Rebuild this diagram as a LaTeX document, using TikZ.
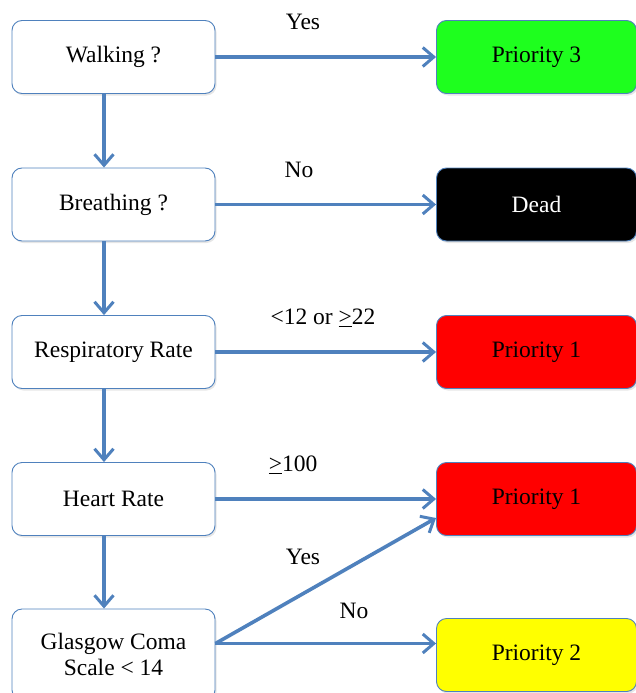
\documentclass[tikz,border=0pt]{standalone}
\usepackage{fontspec}
\setmainfont{Liberation Serif}
\usepackage{tikz}
\usetikzlibrary{arrows.meta,shadows,calc}
\definecolor{tblue}{RGB}{79,129,189}
\definecolor{tgreen}{RGB}{30,255,30}
\definecolor{tred}{RGB}{255,0,0}
\definecolor{tyellow}{RGB}{255,255,0}

\begin{document}
\begin{tikzpicture}[x=1pt,y=-1pt,>={Straight Barb[length=11pt,width=19pt,line width=3pt]},
  every node/.style={font=\fontsize{23.5}{27}\selectfont},
  askbox/.style={draw=tblue,line width=0.9pt,rounded corners=10pt,fill=white,
    minimum width=203pt,minimum height=73pt,align=center,
    drop shadow={shadow xshift=1.5pt,shadow yshift=-2pt,opacity=0.2}},
  prio/.style={askbox,minimum width=200pt},
  flow/.style={->,draw=tblue,line width=3.6pt}]
  \useasboundingbox (0,0) rectangle (636,693);
  % questions
  \node[askbox] (walk) at (113.5,57) {Walking ?};
  \node[askbox] (breath) at (113.5,204.5) {Breathing ?};
  \node[askbox] (resp) at (113.5,352) {Respiratory Rate};
  \node[askbox] (heart) at (113.5,499) {Heart Rate};
  \node[askbox,minimum height=91pt] (gcs) at (113.5,654.5) {Glasgow Coma\\[-1pt]Scale < 14};
  % outcomes
  \node[prio,fill=tgreen] (p3) at (536.5,57) {Priority 3};
  \node[prio,fill=black,text=white] (dead) at (536.5,204.5) {Dead};
  \node[prio,fill=tred] (p1a) at (536.5,352) {Priority 1};
  \node[prio,fill=tred] (p1b) at (536.5,499) {Priority 1};
  \node[prio,fill=tyellow] (p2) at (536.5,655) {Priority 2};
  % arrows down
  \draw[flow] ([xshift=-9.5pt]walk.south) -- ([xshift=-9.5pt]breath.north);
  \draw[flow] ([xshift=-9.5pt]breath.south) -- ([xshift=-9.5pt]resp.north);
  \draw[flow] ([xshift=-9.5pt]resp.south) -- ([xshift=-9.5pt]heart.north);
  \draw[flow] ([xshift=-9.5pt]heart.south) -- ([xshift=-9.5pt]gcs.north);
  % arrows across
  \draw[flow] (walk.east) -- (p3.west);
  \draw[flow] (breath.east) -- (dead.west);
  \draw[flow] (resp.east) -- (p1a.west);
  \draw[flow] (heart.east) -- (p1b.west);
  \coordinate (gout) at ([yshift=11pt]gcs.east);
  \draw[flow] (gout) -- ([yshift=-19pt]p1b.west);
  \draw[flow] (gout) -- (gout -| p2.west);
  % labels
  \node (lyes) at (303,22) {Yes};
  \node (lno) at (299,170) {No};
  \node (lresp) at (323,318) {<12 or \underline{>}22};
  \node (lheart) at (293,465) {\underline{>}100};
  \node (lyes2) at (303,557) {Yes};
  \node (lno2) at (354,611) {No};
\end{tikzpicture}
\end{document}
